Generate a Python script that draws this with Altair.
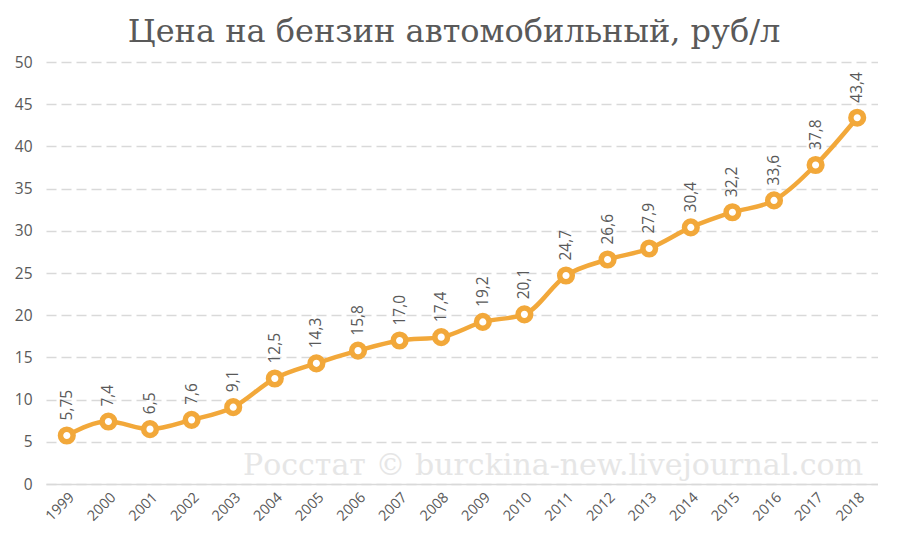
import altair as alt
import pandas as pd

years = [str(y) for y in range(1999, 2019)]
prices = [5.75, 7.4, 6.5, 7.6, 9.1, 12.5, 14.3, 15.8, 17.0, 17.4,
          19.2, 20.1, 24.7, 26.6, 27.9, 30.4, 32.2, 33.6, 37.8, 43.4]
labels = ["5,75", "7,4", "6,5", "7,6", "9,1", "12,5", "14,3", "15,8", "17,0", "17,4",
          "19,2", "20,1", "24,7", "26,6", "27,9", "30,4", "32,2", "33,6", "37,8", "43,4"]
title_text = "Цена на бензин автомобильный, руб/л"
watermark = "Росстат © burckina-new.livejournal.com"

df = pd.DataFrame({"year": years, "price": prices, "label": labels})

ORANGE = "#F2A83A"
GRAY = "#595959"

x = alt.X("year:O", scale=alt.Scale(type="point", padding=0.5),
          axis=alt.Axis(title=None, labelAngle=-45, labelColor=GRAY, labelFontSize=14.5,
                        labelFont="Open Sans", ticks=False, domainColor="#d9d9d9",
                        domainWidth=1.5, labelPadding=6, grid=False))
y = alt.Y("price:Q", scale=alt.Scale(domain=[0, 50], nice=False),
          axis=alt.Axis(title=None, values=list(range(0, 51, 5)), labelColor=GRAY,
                        labelFontSize=15.5, labelFont="Open Sans", ticks=False, domain=False,
                        labelPadding=14, gridColor="#d9d9d9", gridDash=[10, 5],
                        gridWidth=1.3))

base = alt.Chart(df)

wm = alt.Chart(pd.DataFrame({"t": [watermark]})).mark_text(
    font="DejaVu Serif", fontSize=30, color="#e6e6e6", align="left", baseline="alphabetic"
).encode(x=alt.value(197), y=alt.value(413), text="t:N")

line = base.mark_line(color=ORANGE, strokeWidth=4.5, interpolate="monotone").encode(x=x, y=y)
pts = base.mark_point(filled=True, fill="white", stroke=ORANGE, strokeWidth=5.5,
                      size=160, opacity=1, shape="circle").encode(x=x, y=y)
txt = base.mark_text(angle=270, align="left", baseline="middle", dx=15,
                     font="Open Sans", fontSize=15.5, color=GRAY).encode(x=x, y=y, text="label:N")

chart = alt.layer(wm, line, pts, txt).properties(
    width=832, height=422,
    title=alt.TitleParams(title_text, font="DejaVu Serif", fontSize=32, color=GRAY,
                          fontWeight="normal", anchor="middle", offset=6, dx=-8),
    autosize=alt.AutoSizeParams(type="none"),
    padding={"left": 38, "top": 54, "right": 0, "bottom": 46},
).configure_view(stroke=None)

chart.save("out.html", embed_options={"renderer": "svg", "actions": False})
